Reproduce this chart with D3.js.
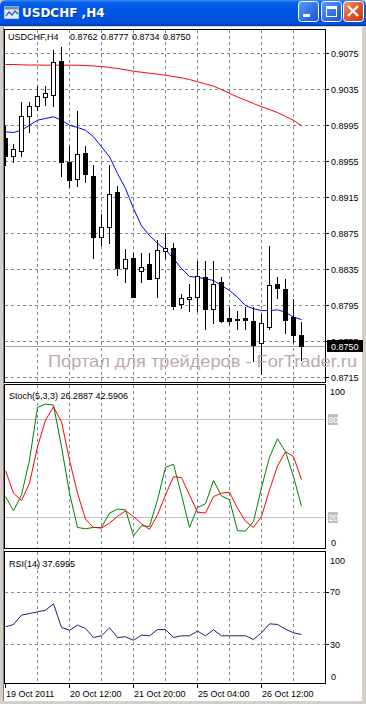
<!DOCTYPE html>
<html><head><meta charset="utf-8">
<script src="https://cdn.jsdelivr.net/npm/d3@7/dist/d3.min.js"></script>
<style>html,body{margin:0;padding:0;background:#d4d0c8;overflow:hidden}svg{display:block}</style>
</head><body><svg id="c" width="366" height="704"></svg>
<script>
const windowTitle = "USDCHF ,H4";
const symbol = "USDCHF,H4";
const open  = [0.8981,0.8961,0.8967,0.9006,0.9017,0.9027,0.9029,0.9067,0.8955,0.8936,0.8965,0.8939,0.8871,0.8882,0.8921,0.8837,0.8848,0.8833,0.8841,0.8826,0.8856,0.8859,0.8797,0.8802,0.8805,0.8827,0.8791,0.8821,0.8781,0.8780,0.8781,0.8778,0.8753,0.8771,0.8819,0.8813,0.8782,0.8762];
const high  = [0.8995,0.8975,0.9021,0.9021,0.9039,0.9039,0.9079,0.9082,0.8972,0.9011,0.8972,0.8951,0.8897,0.8951,0.8928,0.8858,0.8853,0.8853,0.8853,0.8868,0.8876,0.8864,0.8808,0.8819,0.8844,0.8844,0.8844,0.8827,0.8793,0.8789,0.8793,0.8793,0.8786,0.8861,0.8827,0.8824,0.8802,0.8777];
const low   = [0.8951,0.8955,0.8961,0.8988,0.9012,0.9018,0.9017,0.8939,0.8927,0.8928,0.8932,0.8848,0.8862,0.8865,0.8829,0.8821,0.8804,0.8821,0.8824,0.8804,0.8848,0.8791,0.8792,0.8789,0.8789,0.8769,0.8776,0.8777,0.8775,0.8769,0.8769,0.8733,0.8719,0.8769,0.8803,0.8764,0.8754,0.8734];
const close = [0.8961,0.8969,0.9006,0.9017,0.9028,0.9031,0.9066,0.8955,0.8935,0.8963,0.8941,0.8871,0.8882,0.8919,0.8837,0.8847,0.8805,0.8838,0.8825,0.8857,0.8859,0.8795,0.8803,0.8805,0.8828,0.8791,0.8819,0.8778,0.8778,0.8779,0.8779,0.8751,0.8776,0.8818,0.8814,0.8779,0.8762,0.8750];
const slowMA = [0.90628,0.90628,0.90624,0.90622,0.90622,0.90620,0.90620,0.90620,0.90620,0.90620,0.90617,0.90611,0.90606,0.90594,0.90583,0.90569,0.90553,0.90542,0.90531,0.90520,0.90509,0.90494,0.90480,0.90461,0.90436,0.90411,0.90387,0.90350,0.90306,0.90267,0.90231,0.90194,0.90158,0.90128,0.90094,0.90050,0.90009,0.89947];
const fastMA = [0.89880,0.89872,0.89898,0.89953,0.90009,0.90028,0.90047,0.90009,0.89953,0.89928,0.89898,0.89824,0.89713,0.89602,0.89417,0.89250,0.89028,0.88835,0.88728,0.88642,0.88569,0.88469,0.88361,0.88272,0.88264,0.88247,0.88228,0.88172,0.88117,0.88042,0.87950,0.87913,0.87894,0.87894,0.87902,0.87876,0.87820,0.87794];
const stochMain = [32.2,23.5,33.2,54.6,86.8,88.8,88.2,62.7,34.3,13.3,12.5,13.3,13.3,22.1,24.5,24.1,8.2,14.3,13.9,30.2,50.1,52.0,33.2,13.3,25.5,27.8,42.0,32.6,30.2,11.3,11.1,17.0,37.7,56.3,67.6,59.7,44.4,26.2887];
const stochSignal = [48.1,34.3,29.8,40.4,62.7,79.0,87.1,78.0,54.6,34.3,18.4,13.3,12.9,16.0,20.0,23.5,20.0,15.6,12.1,21.0,33.2,44.4,43.8,33.2,22.7,22.1,32.2,34.3,34.9,25.1,17.0,13.3,20.0,36.3,50.9,59.7,56.6,42.5906];
const rsi = [43.6,45.4,52.6,53.8,55.1,56.4,61.3,43.1,41.0,44.9,42.3,35.4,36.7,42.8,35.4,35.9,33.3,37.2,36.7,41.5,41.5,35.4,36.7,36.7,40.3,36.7,41.3,36.7,36.7,36.7,36.7,33.8,39.0,45.9,45.4,41.8,39.0,37.6995];
const priceTicks = [0.9075,0.9035,0.8995,0.8955,0.8915,0.8875,0.8835,0.8795,0.8755,0.8715];
const timeTickIdx = [0,8,16,24,32];
const timeTickLabels = ["19 Oct 2011","20 Oct 12:00","21 Oct 20:00","25 Oct 04:00","26 Oct 12:00"];
const stochLevels = [80,20];
const stochAxis = [100,0];
const rsiLevels = [70,30];
const rsiAxis = [100,70,30,0];
const watermark = "Портал для трейдеров - ForTrader.ru";

const svg = d3.select("#c");
const FONT = "'Liberation Sans', Arial, sans-serif";
const GRID = "#7f8994";
const n = close.length;
const x = d3.scaleLinear().domain([0, 37]).range([5.5, 301.5]);
const y = d3.scaleLinear().domain([0.8715, 0.9075]).range([377.5, 53.5]);
const ys = d3.scaleLinear().domain([20, 80]).range([516.5, 418.5]);
const yr = d3.scaleLinear().domain([30, 70]).range([644.5, 592.5]);

const defs = svg.append("defs");
const tg = defs.append("linearGradient").attr("id","tb").attr("x1",0).attr("y1",0).attr("x2",0).attr("y2",1);
[[0,"#3d8ff8"],[0.08,"#0c63ea"],[0.25,"#0058e8"],[0.6,"#0055e3"],[0.9,"#004fd8"],[1,"#003aa8"]].forEach(s=>tg.append("stop").attr("offset",s[0]).attr("stop-color",s[1]));
const bg = defs.append("linearGradient").attr("id","bb").attr("x1",0).attr("y1",0).attr("x2",1).attr("y2",1);
[[0,"#5b9bff"],[1,"#1550d8"]].forEach(s=>bg.append("stop").attr("offset",s[0]).attr("stop-color",s[1]));
const cg = defs.append("linearGradient").attr("id","cb").attr("x1",0).attr("y1",0).attr("x2",1).attr("y2",1);
[[0,"#f09a70"],[0.5,"#e0582a"],[1,"#c13a12"]].forEach(s=>cg.append("stop").attr("offset",s[0]).attr("stop-color",s[1]));

function clip(id, x0, y0, w, h){ defs.append("clipPath").attr("id",id).append("rect").attr("x",x0).attr("y",y0).attr("width",w).attr("height",h); }
clip("cm", 5, 30, 320, 352);
clip("cs", 5, 385, 320, 163);
clip("cr", 5, 552, 320, 131);

// window frame
svg.append("rect").attr("x",0).attr("y",0).attr("width",366).attr("height",704).attr("fill","#d4d0c8");
svg.append("rect").attr("x",3).attr("y",27).attr("width",359).attr("height",674).attr("fill","#ffffff");
svg.append("line").attr("x1",3).attr("x2",3).attr("y1",27).attr("y2",701).attr("stroke","#808080").attr("shape-rendering","crispEdges");

// title bar
svg.append("path").attr("d","M0,26 L0,6 Q0,0 6,0 L360,0 Q366,0 366,6 L366,26 Z").attr("fill","url(#tb)");
const ic = svg.append("g").attr("transform","translate(4,4)");
ic.append("rect").attr("x",0.5).attr("y",2.5).attr("width",14).attr("height",12).attr("fill","#dfe9f7").attr("stroke","#b8c8e0");
ic.append("rect").attr("x",0.5).attr("y",2.5).attr("width",14).attr("height",3).attr("fill","#6f8fc0");
ic.append("path").attr("d","M2,12 L5,8 L8,11 L11,7 L14,10").attr("fill","none").attr("stroke","#2050b0").attr("stroke-width",1.2);
svg.append("text").attr("x",23).attr("y",17.5).attr("fill","#0a246a").attr("opacity",0.6).attr("font-family","'DejaVu Sans', sans-serif").attr("font-weight","bold").attr("font-size",12).text(windowTitle);
svg.append("text").attr("x",22).attr("y",16.5).attr("fill","#ffffff").attr("font-family","'DejaVu Sans', sans-serif").attr("font-weight","bold").attr("font-size",12).text(windowTitle);
function btn(bx, fill){ return svg.append("g").call(g=>g.append("rect").attr("x",bx+0.5).attr("y",1.5).attr("width",20).attr("height",20).attr("rx",3).attr("fill",fill).attr("stroke","#ffffff")); }
btn(298,"url(#bb)").append("rect").attr("x",303).attr("y",14).attr("width",7).attr("height",3).attr("fill","#fff");
const mx = btn(321,"url(#bb)");
mx.append("rect").attr("x",326.5).attr("y",6.5).attr("width",10).attr("height",10).attr("fill","none").attr("stroke","#fff");
mx.append("rect").attr("x",326).attr("y",6).attr("width",11).attr("height",3).attr("fill","#fff");
const cx = btn(343,"url(#cb)");
cx.append("path").attr("d","M348,6 L358,16 M358,6 L348,16").attr("stroke","#fff").attr("stroke-width",2.2);

// ===== panels =====
function vgrid(g, y0, y1){
  g.selectAll(null).data(d3.range(4, n, 4)).join("line")
    .attr("x1",d=>x(d)).attr("x2",d=>x(d)).attr("y1",y0).attr("y2",y1)
    .attr("stroke",GRID).attr("stroke-dasharray","3,3").attr("shape-rendering","crispEdges");
}
function panelBorder(y0, y1){
  svg.append("rect").attr("x",4.5).attr("y",y0+0.5).attr("width",321).attr("height",y1-y0).attr("fill","none").attr("stroke","#000").attr("shape-rendering","crispEdges");
}
function lbl(t, xx, yy, fill){ return svg.append("text").attr("x",xx).attr("y",yy).attr("font-family",FONT).attr("font-size",9).attr("fill",fill||"#000").text(t); }
function tick(yy){ svg.append("line").attr("x1",325).attr("x2",329).attr("y1",yy).attr("y2",yy).attr("stroke","#000").attr("shape-rendering","crispEdges"); }

// main
const gm = svg.append("g").attr("clip-path","url(#cm)");
vgrid(gm, 30, 382);
gm.selectAll(null).data(priceTicks).join("line").attr("x1",5).attr("x2",325).attr("y1",d=>y(d)).attr("y2",d=>y(d))
  .attr("stroke",GRID).attr("stroke-dasharray","3,3").attr("shape-rendering","crispEdges");
gm.append("line").attr("x1",5).attr("x2",325).attr("y1",Math.round(y(close[n-1]))+0.5).attr("y2",Math.round(y(close[n-1]))+0.5)
  .attr("stroke","#a0a0a0").attr("shape-rendering","crispEdges");
gm.append("path").datum(slowMA).attr("fill","none").attr("stroke","#ff0000").attr("stroke-width",1)
  .attr("d", d3.line().x((d,i)=>x(i)).y(d=>y(d)));
gm.append("path").datum(fastMA).attr("fill","none").attr("stroke","#0000ff").attr("stroke-width",1)
  .attr("d", d3.line().x((d,i)=>x(i)).y(d=>y(d)));
const cd = gm.selectAll(null).data(d3.range(n)).join("g");
cd.append("line").attr("x1",i=>x(i)).attr("x2",i=>x(i)).attr("y1",i=>Math.round(y(high[i]))).attr("y2",i=>Math.round(y(low[i]))+1)
  .attr("stroke","#000").attr("shape-rendering","crispEdges");
cd.append("rect")
  .attr("x",i=> close[i] >= open[i] ? x(i)-2 : x(i)-2.5)
  .attr("width",i=> close[i] >= open[i] ? 4 : 5)
  .attr("y",i=>{ const t=Math.round(y(Math.max(open[i],close[i]))); return close[i]>=open[i] ? t+0.5 : t; })
  .attr("height",i=>{ const t=Math.round(y(Math.max(open[i],close[i]))), b=Math.round(y(Math.min(open[i],close[i]))); return Math.max(close[i]>=open[i]?b-t:b-t+1, 1); })
  .attr("fill",i=> close[i] >= open[i] ? "#fff" : "#000")
  .attr("stroke",i=> close[i] >= open[i] ? "#000" : "none")
  .attr("shape-rendering","crispEdges");
panelBorder(29, 382);
const hdr = svg.append("text").attr("font-family",FONT).attr("font-size",9).attr("y",40);
hdr.append("tspan").attr("x",8).text(symbol);
[open[n-1],high[n-1],low[n-1],close[n-1]].forEach((v,j)=> hdr.append("tspan").attr("x",70 + j*31).text(v.toFixed(4)));
priceTicks.forEach(p=>{ tick(y(p)); lbl(p.toFixed(4), 331, y(p)+3.5); });
// current price box
svg.append("rect").attr("x",327).attr("y",Math.round(y(close[n-1]))-6).attr("width",36).attr("height",12).attr("fill","#000");
lbl(close[n-1].toFixed(4), 331, Math.round(y(close[n-1]))+3.5, "#fff");
// watermark
svg.append("text").attr("x",48).attr("y",367).attr("font-family",FONT).attr("font-size",17).attr("fill","#b9abab")
  .attr("textLength",309).attr("lengthAdjust","spacingAndGlyphs").text(watermark);

// stochastic
const gs = svg.append("g").attr("clip-path","url(#cs)");
vgrid(gs, 385, 548);
gs.selectAll(null).data(stochLevels).join("line").attr("x1",5).attr("x2",325).attr("y1",d=>Math.round(ys(d))+0.5).attr("y2",d=>Math.round(ys(d))+0.5)
  .attr("stroke","#c0c0c0").attr("shape-rendering","crispEdges");
gs.append("path").datum(stochMain).attr("fill","none").attr("stroke","#008000").attr("d", d3.line().x((d,i)=>x(i)).y(d=>ys(d)));
gs.append("path").datum(stochSignal).attr("fill","none").attr("stroke","#ff0000").attr("d", d3.line().x((d,i)=>x(i)).y(d=>ys(d)));
panelBorder(384, 548);
lbl("Stoch(5,3,3) " + stochMain[n-1].toFixed(4) + " " + stochSignal[n-1].toFixed(4), 9, 398.5);
lbl(String(stochAxis[0]), 330, 395);
lbl(String(stochAxis[1]), 331, 546);
stochLevels.forEach(v=>{
  svg.append("rect").attr("x",328).attr("y",Math.round(ys(v))-5).attr("width",10).attr("height",11).attr("fill","#c0c0c0");
  lbl(String(v), 328.5, Math.round(ys(v))+3.5, "#fff");
});

// RSI
const gr = svg.append("g").attr("clip-path","url(#cr)");
vgrid(gr, 552, 683);
gr.selectAll(null).data(rsiLevels).join("line").attr("x1",5).attr("x2",325).attr("y1",d=>yr(d)).attr("y2",d=>yr(d))
  .attr("stroke",GRID).attr("stroke-dasharray","3,3").attr("shape-rendering","crispEdges");
gr.append("path").datum(rsi).attr("fill","none").attr("stroke","#1e1e82").attr("d", d3.line().x((d,i)=>x(i)).y(d=>yr(d)));
panelBorder(551, 683);
lbl("RSI(14) " + rsi[n-1].toFixed(4), 9, 566.5);
lbl(String(rsiAxis[0]), 330, 563.5); lbl(String(rsiAxis[1]), 330, 594.5); lbl(String(rsiAxis[2]), 330, 647.5); lbl(String(rsiAxis[3]), 331, 679.5);
rsiLevels.forEach(v=>tick(yr(v)));

// time axis
timeTickIdx.forEach((k,j)=>{
  svg.append("line").attr("x1",x(k)).attr("x2",x(k)).attr("y1",684).attr("y2",688).attr("stroke","#000").attr("shape-rendering","crispEdges");
  lbl(timeTickLabels[j], x(k)+0.5, 697);
});
</script></body></html>
